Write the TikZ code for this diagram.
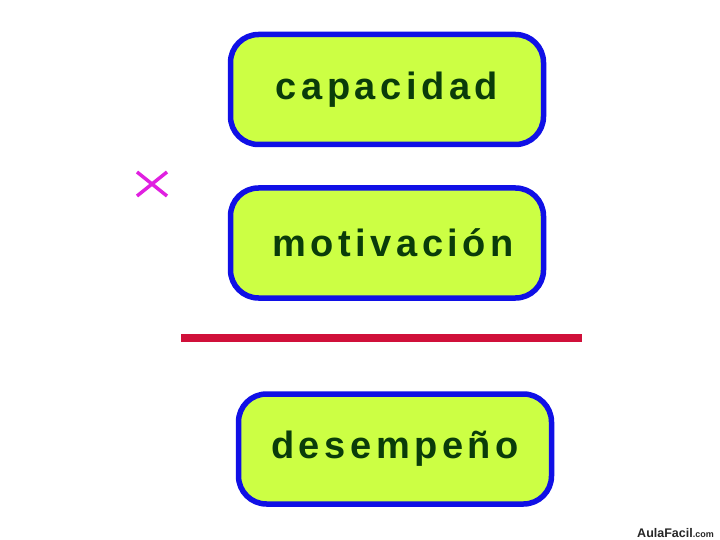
\documentclass[tikz,border=0pt]{standalone}
\usepackage{fontspec}
\setmainfont{Liberation Sans}
\newfontfamily\WordFont[LetterSpace=12]{Liberation Sans}
\usetikzlibrary{calc}
\definecolor{FillClr}{RGB}{204,255,68}
\definecolor{BorderClr}{RGB}{16,16,230}
\definecolor{WordClr}{RGB}{10,60,10}
\definecolor{BarClr}{RGB}{208,16,58}
\definecolor{TimesClr}{RGB}{224,32,224}

\begin{document}
\begin{tikzpicture}[x=1pt,y=-1pt,
  WordBox/.style={draw=BorderClr,fill=FillClr,line width=5.5pt,rounded corners=28pt,
    minimum width=313pt,minimum height=110pt,inner sep=0pt,
    text=WordClr,font=\WordFont\fontsize{38}{40}\bfseries}]
\useasboundingbox[fill=white] (0,0) rectangle (720,540);

\node[WordBox] (Cap) at (387,89.5) {capacidad\hspace{10pt}};
\node[WordBox] (Mot) at (387,243) {\hspace{12pt}motivación};
\node[WordBox] (Des) at (395,449) {desempeño};

% bar
\coordinate (BarL) at (181,337.5);
\coordinate (BarR) at (582,337.5);
\draw[BarClr,line width=8pt] (BarL) -- (BarR);

% times sign
\coordinate (T) at (152,184);
\draw[TimesClr,line width=3.5pt] ($(T)+(-15,-12)$) -- ($(T)+(15,12)$)
  ($(T)+(-15,12)$) -- ($(T)+(15,-12)$);

\node[anchor=base east,inner sep=0pt,text=black!85] (Logo) at (714,537)
  {\fontsize{12.5}{13}\bfseries AulaFacil\fontsize{9}{10}\selectfont.com};
\end{tikzpicture}
\end{document}
